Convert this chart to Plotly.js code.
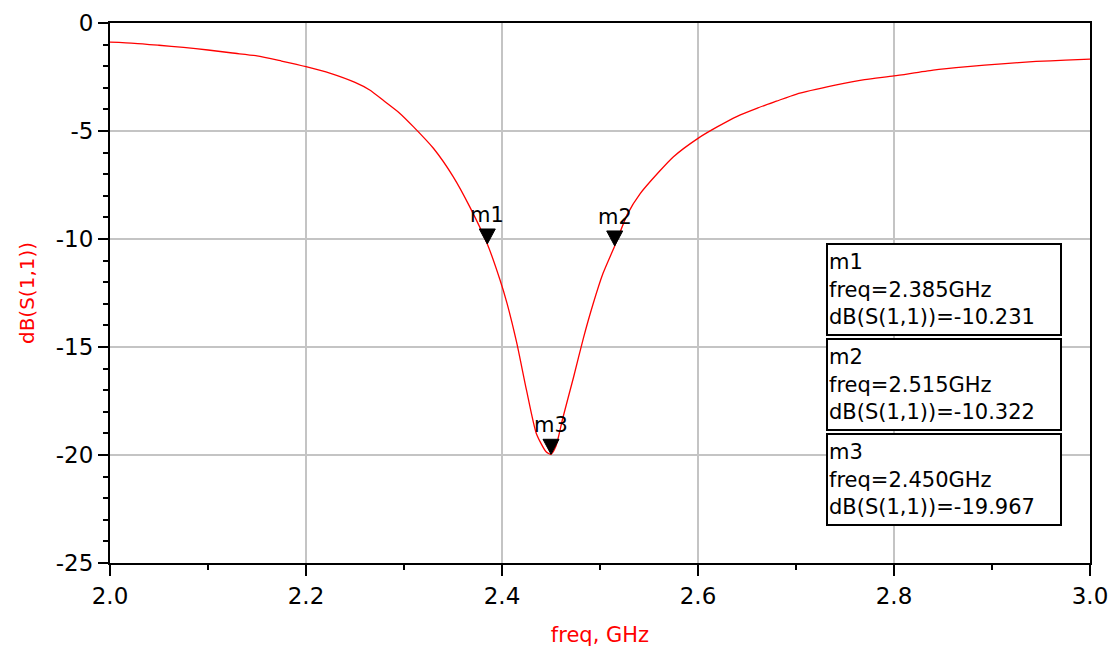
<!DOCTYPE html>
<html>
<head>
<meta charset="utf-8">
<script src="https://cdn.plot.ly/plotly-3.0.1.min.js"></script>
<style>
  body { margin: 0; background: #fff; }
  #myDiv { width: 1116px; height: 656px; }
</style>
</head>
<body>
<div id="myDiv"></div>
<script>
// S11 sweep
var freq = [2.000, 2.025, 2.050, 2.075, 2.100, 2.125, 2.150, 2.175, 2.200, 2.225,
  2.250, 2.265, 2.280, 2.295, 2.310, 2.330, 2.350, 2.367, 2.385, 2.398,
  2.405, 2.415, 2.425, 2.435, 2.445, 2.450, 2.455, 2.462, 2.473, 2.483,
  2.493, 2.503, 2.515, 2.528, 2.541, 2.560, 2.575, 2.600, 2.620, 2.640,
  2.660, 2.680, 2.700, 2.740, 2.770, 2.800, 2.840, 2.875, 2.910, 2.945,
  2.975, 3.000];
var s11 = [-0.89, -0.94, -1.03, -1.13, -1.25, -1.39, -1.52, -1.76, -2.02, -2.33,
  -2.75, -3.10, -3.62, -4.15, -4.82, -5.80, -7.10, -8.50, -10.231, -11.90,
  -12.96, -14.80, -17.00, -19.00, -19.85, -19.967, -19.60, -18.30, -16.40, -14.60,
  -13.00, -11.60, -10.322, -8.85, -7.90, -6.90, -6.19, -5.34, -4.80, -4.32,
  -3.95, -3.62, -3.30, -2.88, -2.62, -2.45, -2.18, -2.02, -1.89, -1.78,
  -1.72, -1.67];

// axis ticks (plain hyphen minus like the original)
var yTicks = [0, -5, -10, -15, -20, -25];
var yTickText = ['0', '-5', '-10', '-15', '-20', '-25'];

// markers
var mNames = ['m1', 'm2', 'm3'];
var mFreq = [2.385, 2.515, 2.450];
var mDb = [-10.231, -10.322, -19.967];

var trace1 = {
  x: freq,
  y: s11,
  type: 'scatter',
  mode: 'lines',
  line: { color: '#ff0000', width: 1.3, shape: 'spline', smoothing: 0.6 },
  hoverinfo: 'skip'
};

var font = 'DejaVu Sans';
var shapes = [];
var annotations = [];
var boxTops = [243, 338, 433]; // px from top of page
var plotTop = 23, plotH = 540;

for (var i = 0; i < mNames.length; i++) {
  // triangle with its tip on the curve
  shapes.push({
    type: 'path',
    xref: 'x', yref: 'y',
    xsizemode: 'pixel', ysizemode: 'pixel',
    xanchor: mFreq[i], yanchor: mDb[i],
    path: 'M-8,15 L8,15 L0,0 Z',
    fillcolor: '#000',
    line: { color: '#000', width: 1 }
  });
  annotations.push({
    x: mFreq[i], y: mDb[i], xref: 'x', yref: 'y',
    text: mNames[i], showarrow: false,
    yanchor: 'bottom', yshift: 15,
    font: { family: font, size: 21, color: '#000' }
  });
  // readout box
  annotations.push({
    xref: 'paper', yref: 'paper',
    x: (826 - 110) / 980,
    y: 1 - (boxTops[i] - plotTop) / plotH,
    xanchor: 'left', yanchor: 'top',
    align: 'left', valign: 'middle',
    width: 230, height: 87,
    text: mNames[i] + '<br>freq=' + mFreq[i].toFixed(3) + 'GHz<br>dB(S(1,1))=' + mDb[i].toFixed(3),
    showarrow: false,
    bgcolor: '#fff',
    bordercolor: '#000', borderwidth: 2, borderpad: 1,
    font: { family: font, size: 21, color: '#000' }
  });
}

var layout = {
  width: 1116,
  height: 656,
  margin: { l: 110, r: 26, t: 23, b: 93 },
  paper_bgcolor: '#fff',
  plot_bgcolor: '#fff',
  showlegend: false,
  font: { family: font, color: '#000' },
  xaxis: {
    range: [2, 3],
    dtick: 0.2,
    tick0: 2,
    tickformat: '.1f',
    ticks: 'outside',
    ticklen: 11,
    tickwidth: 2,
    tickcolor: '#000',
    minor: { dtick: 0.1, ticks: 'outside', ticklen: 5, tickwidth: 2, tickcolor: '#000', showgrid: false },
    showline: true, linecolor: '#000', linewidth: 2, mirror: true,
    showgrid: true, gridcolor: '#c4c4c4', gridwidth: 1.5,
    zeroline: false,
    tickfont: { size: 23 },
    title: { text: 'freq, GHz', font: { size: 21, color: '#ff0000' }, standoff: 20 }
  },
  yaxis: {
    range: [-25, 0],
    tickmode: 'array',
    tickvals: yTicks,
    ticktext: yTickText,
    ticks: 'outside',
    ticklen: 10,
    tickwidth: 2,
    tickcolor: '#000',
    minor: { tickmode: 'linear', tick0: 0, dtick: 1, ticks: 'outside', ticklen: 5, tickwidth: 2, tickcolor: '#000', showgrid: false },
    showline: true, linecolor: '#000', linewidth: 2, mirror: true,
    showgrid: true, gridcolor: '#c4c4c4', gridwidth: 1.5,
    zeroline: false,
    tickfont: { size: 23 },
    title: { text: 'dB(S(1,1))', font: { size: 20, color: '#ff0000' }, standoff: 16 }
  },
  shapes: shapes,
  annotations: annotations
};

Plotly.newPlot('myDiv', [trace1], layout, { displayModeBar: false, staticPlot: true });
</script>
</body>
</html>
